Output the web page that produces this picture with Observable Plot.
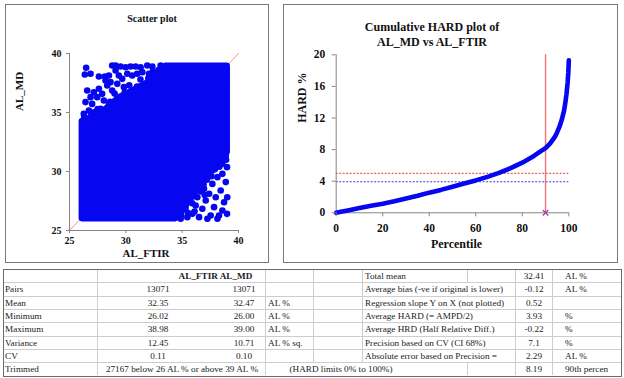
<!DOCTYPE html>
<html><head><meta charset="utf-8">
<script src="https://cdn.jsdelivr.net/npm/d3@7"></script>
<script src="https://cdn.jsdelivr.net/npm/@observablehq/plot@0.6"></script>
<style>
body{margin:0;background:#fff;}
#root{position:relative;width:624px;height:378px;overflow:hidden;font-family:"Liberation Serif","Times New Roman",serif;}
.panel{position:absolute;box-sizing:border-box;border:1px solid #7a7a7a;}
.plotbox{position:absolute;}
.title{position:absolute;font-weight:bold;color:#111;white-space:nowrap;transform:translateX(-50%);text-align:center;}
.cell{position:absolute;white-space:nowrap;font-size:9.2px;height:12px;line-height:12px;color:#222;background:#fff;}
.ctr{transform:translateX(-50%);}
.vl{position:absolute;width:1px;background:#cdcdcd;}
.hl{position:absolute;height:1px;background:#cdcdcd;}
</style></head><body><div id="root"></div>
<script>
// ---------- data ----------
const scatterTitle = "Scatter plot";
const scatterXLabel = "AL_FTIR";
const scatterYLabel = "AL_MD";
const scatterXTicks = [25, 30, 35, 40];
const scatterYTicks = [25, 30, 35, 40];
const diagonal = [25, 40];
// dense core of the 13071 points (outline)
const coreX = [26.1, 34.4, 35.0, 35.6, 36.2, 36.8, 37.4, 38.1, 38.95, 38.95, 33.5, 32.65, 31.75, 30.55, 29.4, 28.2, 27.0, 26.1];
const coreY = [26.05, 26.05, 26.7, 27.55, 28.4, 29.1, 29.95, 30.8, 31.65, 38.95, 38.95, 38.15, 37.45, 36.85, 36.3, 35.3, 34.6, 34.3];
// sparse points outside the dense core
const outlierX = [26.48, 26.36, 26.87, 27.61, 28.14, 28.5, 28.79, 29.09, 29.53, 29.98, 30.42, 30.87, 31.31, 31.9, 32.35, 33.09, 30.13, 30.57, 31.01, 29.68, 29.24, 28.64, 27.61, 27.16, 26.87, 26.42, 27.01, 27.46, 27.9, 26.27, 26.72, 28.35, 28.79, 28.05, 28.5, 27.76, 27.25, 29.09, 29.38, 31.46, 32.05, 26.57, 28.2, 29.83,
  26.3, 26.9, 27.5, 28.6, 29.0, 29.9, 30.3, 31.0, 31.3, 32.0, 32.4, 32.9, 33.2,
  38.87, 38.98, 38.57, 38.87, 38.13, 37.68, 38.42, 39.0, 38.72, 37.98, 37.39, 37.09, 37.83, 38.57, 38.98, 38.27, 37.53, 36.79, 36.5, 35.9, 35.46, 36.2, 37.24, 38.13, 34.87, 38.57, 37.68, 36.94, 36.35,
  34.9, 35.3, 35.9, 36.0, 36.6, 36.9, 37.2, 37.6, 37.9, 38.3, 38.6, 38.9, 35.5, 36.1, 37.0];
const outlierY = [38.79, 38.22, 38.28, 38.05, 38.05, 38.14, 38.98, 38.98, 38.9, 38.84, 38.9, 38.9, 38.84, 38.98, 38.9, 38.98, 38.28, 38.14, 38.28, 37.85, 37.43, 37.57, 37.01, 36.72, 36.3, 35.88, 35.73, 36.3, 36.58, 34.89, 35.17, 37.29, 36.86, 36.02, 35.73, 35.31, 35.03, 38.56, 38.14, 38.42, 38.28, 36.86, 37.71, 37.15,
  34.7, 35.0, 35.3, 35.9, 36.6, 36.7, 37.3, 37.2, 37.8, 37.9, 38.5, 38.6, 38.3,
  31.36, 30.37, 29.8, 29.1, 29.52, 28.95, 28.39, 27.82, 27.4, 27.82, 28.11, 27.54, 26.98, 26.69, 26.41, 26.27, 26.27, 26.84, 26.13, 26.41, 26.13, 27.12, 26.0, 26.0, 26.0, 30.65, 30.08, 28.53, 27.82,
  26.3, 26.9, 27.3, 27.9, 28.3, 28.9, 29.3, 29.6, 30.2, 30.4, 31.1, 31.0, 26.5, 26.6, 28.0];

const hardTitle = ["Cumulative HARD plot of", "AL_MD vs AL_FTIR"];
const hardXLabel = "Percentile";
const hardYLabel = "HARD %";
const hardXTicks = [0, 20, 40, 60, 80, 100];
const hardYTicks = [0, 4, 8, 12, 16, 20];
const hardPercentile = [0, 2, 5, 10, 15, 20, 25, 30, 35, 40, 45, 50, 55, 60, 65, 70, 75, 80, 85, 88, 90, 92, 94, 95, 96, 97, 98, 98.5, 99, 99.5, 99.8, 100];
const hardValue = [0, 0.12, 0.3, 0.6, 0.9, 1.15, 1.45, 1.8, 2.15, 2.55, 2.9, 3.3, 3.7, 4.1, 4.55, 5.05, 5.65, 6.35, 7.2, 7.8, 8.19, 8.8, 9.6, 10.2, 10.9, 11.8, 13.0, 13.9, 15.0, 16.5, 17.8, 19.3];
const hardLimit = [5];
const averageHard = [3.93];
const percentile90 = [90];
const percentileMarker = [{p: 90, v: 0}];

const tableHeaders = ["AL_FTIR", "AL_MD"];
const leftLabels = ["Pairs", "Mean", "Minimum", "Maximum", "Variance", "CV"];
const ftirValues = ["13071", "32.35", "26.02", "38.98", "12.45", "0.11"];
const mdValues = ["13071", "32.47", "26.00", "39.00", "10.71", "0.10"];
const leftUnits = ["", "AL %", "AL %", "AL %", "AL % sq.", ""];
const trimmedLabel = "Trimmed";
const trimmedText = "27167 below 26 AL % or above 39 AL %";
const hardLimitsText = "(HARD limits 0% to 100%)";
const rightLabels = ["Total mean", "Average bias (-ve if original is lower)", "Regression slope Y on X (not plotted)", "Average HARD (= AMPD/2)", "Average HRD (Half Relative Diff.)", "Precision based on CV (CI 68%)", "Absolute error based on Precision ="];
const rightValues = ["32.41", "-0.12", "0.52", "3.93", "-0.22", "7.1", "2.29", "8.19"];
const rightUnits = ["AL %", "AL %", "", "%", "%", "%", "AL %", "90th percen"];

// ---------- drawing ----------
const root = document.getElementById("root");
const serif = "'Liberation Serif','Times New Roman',serif";
const blue = "#0606f0";
const axisGray = "#858585";

function add(tag, cls, css, text) {
  const e = document.createElement(tag);
  if (cls) e.className = cls;
  Object.assign(e.style, css);
  if (text != null) e.textContent = text;
  root.appendChild(e);
  return e;
}

// panels
add("div", "panel", {left: "5px", top: "4px", width: "264px", height: "259px"});
add("div", "panel", {left: "283px", top: "4px", width: "335px", height: "259px"});

// scatter
const scatter = Plot.plot({
  width: 263, height: 258,
  marginLeft: 64, marginRight: 30, marginTop: 49, marginBottom: 32,
  x: {domain: [25, 40]},
  y: {domain: [25, 40]},
  style: {background: "transparent", fontFamily: serif, fontSize: "10px", fontWeight: "bold", color: "#111", overflow: "visible"},
  marks: [
    Plot.line(diagonal, {x: d => d, y: d => d, stroke: "#e8806a", strokeWidth: 0.8}),
    Plot.line(coreX, {x: coreX, y: coreY, curve: "linear-closed", fill: blue, stroke: blue, strokeWidth: 6.6, strokeLinejoin: "round"}),
    Plot.dot(outlierX, {x: outlierX, y: outlierY, r: 3.3, fill: blue}),
    Plot.ruleX([25], {stroke: axisGray}),
    Plot.ruleY([25], {stroke: axisGray}),
    Plot.axisX({ticks: scatterXTicks, tickSize: 3, tickPadding: 3, stroke: axisGray, fill: "#111", label: null}),
    Plot.axisY({ticks: scatterYTicks, tickSize: 3, tickPadding: 5, stroke: axisGray, fill: "#111", label: null}),
    Plot.text([scatterXLabel], {text: d => d, frameAnchor: "bottom", dy: 26, dx: -8, fontSize: 11, fill: "#111"}),
    Plot.text([scatterYLabel], {text: d => d, frameAnchor: "left", rotate: -90, dx: -50, dy: -31, fontSize: 11, fill: "#111"})
  ]
});
const sBox = add("div", "plotbox", {left: "5px", top: "4px"});
sBox.appendChild(scatter);
add("div", "title", {left: "152px", top: "13px", fontSize: "10px", lineHeight: "12px"}, scatterTitle);

// cumulative HARD
const hard = Plot.plot({
  width: 334, height: 258,
  marginLeft: 52.7, marginRight: 48.7, marginTop: 50.3, marginBottom: 49.7,
  x: {domain: [0, 100]},
  y: {domain: [0, 20]},
  style: {background: "transparent", fontFamily: serif, fontSize: "11.5px", fontWeight: "bold", color: "#111", overflow: "visible"},
  marks: [
    Plot.ruleY(hardLimit, {stroke: "#e23a3a", strokeWidth: 1, strokeDasharray: "2,1.5"}),
    Plot.ruleY(averageHard, {stroke: "#3a3ae2", strokeWidth: 1, strokeDasharray: "2,1.5"}),
    Plot.ruleX(percentile90, {stroke: "#f07272", strokeWidth: 1.4}),
    Plot.ruleX([0], {stroke: axisGray}),
    Plot.ruleY([0], {stroke: axisGray}),
    Plot.line(hardPercentile, {x: hardPercentile, y: hardValue, stroke: blue, strokeWidth: 4.6, strokeLinecap: "round", strokeLinejoin: "round"}),
    Plot.dot(percentileMarker, {x: "p", y: "v", symbol: "times", r: 2.6, stroke: "#b03aa8", strokeWidth: 1.3}),
    Plot.axisX({ticks: hardXTicks, tickSize: 4, tickPadding: 7, stroke: axisGray, fill: "#111", label: null}),
    Plot.axisY({ticks: hardYTicks, tickSize: 4, tickPadding: 7, stroke: axisGray, fill: "#111", label: null}),
    Plot.text([hardXLabel], {text: d => d, frameAnchor: "bottom", dy: 35, dx: 4, fontSize: 12, fill: "#111"}),
    Plot.text([hardYLabel], {text: d => d, frameAnchor: "left", rotate: -90, dx: -34, dy: -11, fontSize: 12, fill: "#111"})
  ]
});
const hBox = add("div", "plotbox", {left: "283px", top: "4px"});
hBox.appendChild(hard);
hardTitle.forEach((t, i) => add("div", "title", {left: "432px", top: (20 + i * 15) + "px", fontSize: "12px", lineHeight: "15px"}, t));

// ---------- table ----------
const tTop = 269, rowH = 13.3, nRows = 8, tLeft = 3, tRight = 622;
const rowTop = i => tTop + i * rowH;
[97, 265, 313, 362, 467, 515, 552].forEach(x =>
  add("div", "vl", {left: x + "px", top: tTop + "px", height: (rowH * nRows) + "px"}));
for (let k = 1; k < nRows; k++)
  add("div", "hl", {left: tLeft + "px", top: rowTop(k) + "px", width: (tRight - tLeft) + "px"});
add("div", null, {position: "absolute", boxSizing: "border-box", left: tLeft + "px", top: tTop + "px", width: (tRight - tLeft) + "px", height: (rowH * nRows + 1.5) + "px", border: "1.5px solid #6a6a6a"});

function cell(row, x, text, opts = {}) {
  if (text === "") return;
  const e = add("div", "cell" + (opts.center ? " ctr" : ""), {left: x + "px", top: (rowTop(row) + 1) + "px"}, text);
  if (opts.bold) e.style.fontWeight = "bold";
  return e;
}
cell(0, 215.5, tableHeaders.join(" "), {center: true, bold: true});
leftLabels.forEach((t, i) => {
  cell(i + 1, 5, t);
  cell(i + 1, 158, ftirValues[i], {center: true});
  cell(i + 1, 244, mdValues[i], {center: true});
  cell(i + 1, 268, leftUnits[i]);
});
cell(7, 5, trimmedLabel);
cell(7, 182, trimmedText, {center: true});
rightLabels.forEach((t, i) => cell(i, 365, t));
cell(7, 341, hardLimitsText, {center: true});
rightValues.forEach((t, i) => cell(i, 534, t, {center: true}));
rightUnits.forEach((t, i) => cell(i, 565, t));
</script></body></html>
